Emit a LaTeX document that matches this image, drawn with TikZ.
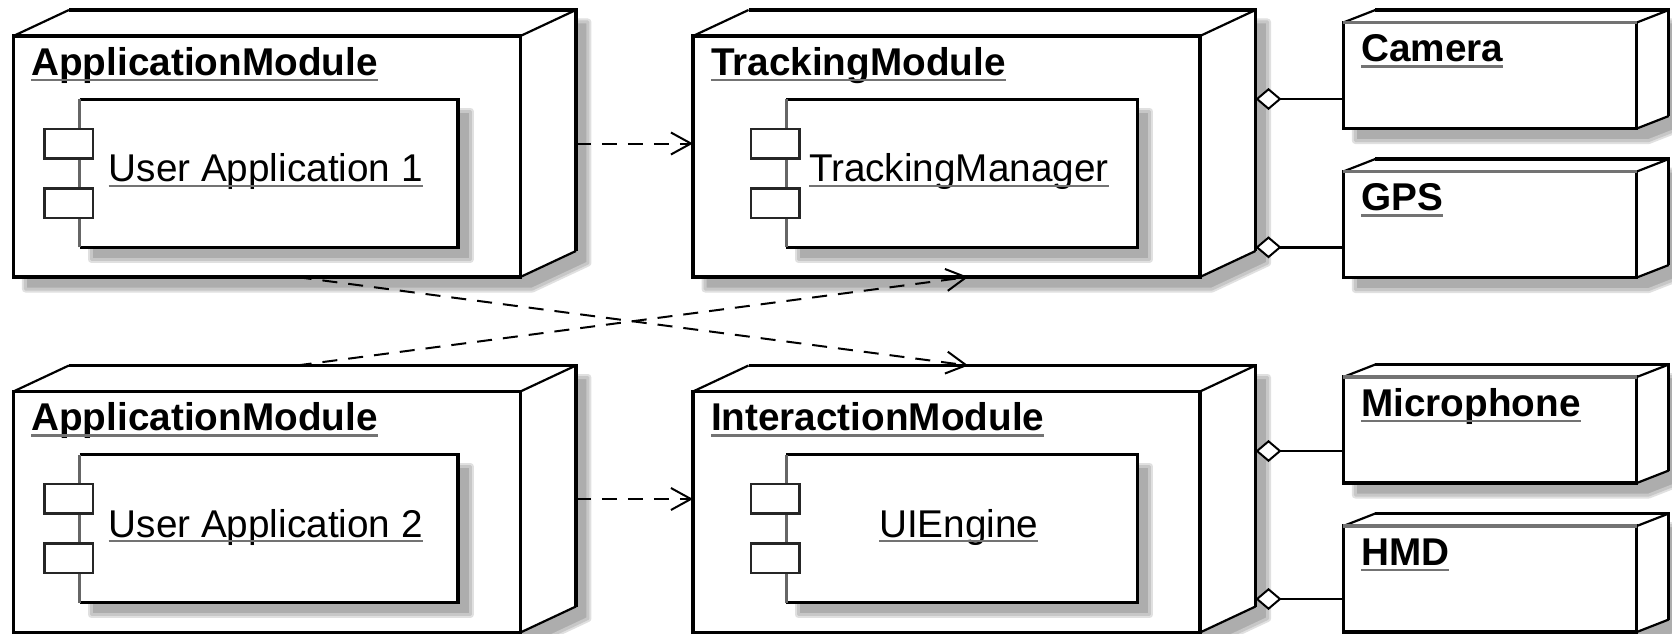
\documentclass[tikz,border=0pt]{standalone}
\usepackage{fontspec}
\setmainfont{Liberation Sans}
\usetikzlibrary{arrows.meta,fit}

\tikzset{
  every node/.style={inner sep=0pt, outer sep=0pt},
  lbl/.style={font=\fontsize{38.7}{44}\selectfont, text=black},
  ttl/.style={font=\fontsize{38.7}{44}\selectfont\bfseries, text=black},
  shadowA/.style={fill=black!12, draw=black!12, line width=7pt, line join=round},
  shadowB/.style={fill=black!32, draw=black!22, line width=3pt, line join=round},
  front/.style={draw=black, fill=white, line width=3.2pt},
  rim/.style={draw=black, line width=3.2pt, line cap=square},
  diag/.style={draw=black, line width=2.2pt},
  topgray/.style={draw=black!55, line width=3.5pt},
  compbox/.style={fill=white},
  compside/.style={draw=black!60, line width=2.8pt},
  port/.style={draw=black!85, fill=white, line width=2.5pt,
               minimum width=48.5pt, minimum height=29.5pt},
  ulline/.style={draw=black!55, line width=2.5pt},
  dep/.style={draw=black, line width=2pt, dash pattern=on 15pt off 11pt,
              -{Straight Barb[length=20pt, width=22pt, line width=2pt]}},
  aggr/.style={draw=black, line width=2.5pt,
               -{Diamond[fill=white, length=26pt, width=22pt, line width=2pt]}}
}

% 3D deployment node: name, x, y, width, height, depth-x, depth-y, front-top style, title
\newcommand\nodebox[9]{%
  \begin{scope}[shift={(12,12)}]
    \path[shadowA] (#2,#3+#5) -- (#2,#3) -- (#2+#6,#3-#7) -- (#2+#4+#6,#3-#7)
      -- (#2+#4+#6,#3+#5-#7) -- (#2+#4,#3+#5) -- cycle;
    \path[shadowB] (#2,#3+#5) -- (#2,#3) -- (#2+#6,#3-#7) -- (#2+#4+#6,#3-#7)
      -- (#2+#4+#6,#3+#5-#7) -- (#2+#4,#3+#5) -- cycle;
  \end{scope}
  \fill[white] (#2,#3) -- (#2+#6,#3-#7) -- (#2+#4+#6,#3-#7) -- (#2+#4+#6,#3+#5-#7)
    -- (#2+#4,#3+#5) -- (#2+#4,#3) -- cycle;
  \node[front, minimum width=#4pt, minimum height=#5pt, anchor=north west] (#1-f) at (#2,#3) {};
  \coordinate (#1-bnw) at (#2+#6,#3-#7);
  \coordinate (#1-bne) at (#2+#4+#6,#3-#7);
  \coordinate (#1-bse) at (#2+#4+#6,#3+#5-#7);
  \draw[diag] (#1-f.north west) -- (#1-bnw);
  \draw[diag] (#1-f.north east) -- (#1-bne);
  \draw[diag] (#1-f.south east) -- (#1-bse);
  \draw[rim] (#1-bnw) -- (#1-bne) -- (#1-bse);
  \draw[#8] (#1-f.north west) -- (#1-f.north east);
  \node[fit=(#1-f)(#1-bne)] (#1) {};
  \node[ttl, anchor=base west] (#1-t) at (#2+18,#3+39) {#9};
  \draw[ulline] ([yshift=-5pt]#1-t.base west) -- ([yshift=-5pt]#1-t.base east);
}

% UML component: name, x, y, width, label
\newcommand\component[5]{%
  \begin{scope}[shift={(12,12)}]
    \path[shadowA] (#2,#3) rectangle (#2+#4,#3+148);
    \path[shadowB] (#2,#3) rectangle (#2+#4,#3+148);
  \end{scope}
  \node[compbox, minimum width=#4pt, minimum height=148pt, anchor=north west] (#1) at (#2,#3) {};
  \draw[rim] (#1.north west) -- (#1.north east) -- (#1.south east) -- (#1.south west);
  \draw[compside] (#1.south west) -- (#1.north west);
  \node[port, anchor=north west] (#1-p1) at ([shift={(-35pt,-29.7pt)}]#1.north west) {};
  \node[port, anchor=north west] (#1-p2) at ([shift={(-35pt,-89pt)}]#1.north west) {};
  \node[lbl, anchor=base] (#1-t) at ([shift={(-3pt,-82.5pt)}]#1.north) {#5};
  \draw[ulline] ([yshift=-4pt]#1-t.base west) -- ([yshift=-4pt]#1-t.base east);
}

\begin{document}
\begin{tikzpicture}[x=1pt, y=-1pt]
  \useasboundingbox (0,0) rectangle (1672,634);
  \fill[white] (0,0) rectangle (1672,634);

  % execution environments
  \nodebox{am1}{13.4}{36}{507}{241}{55.5}{26}{rim}{ApplicationModule}
  \component{am1c}{79.5}{99.3}{378.5}{User Application 1}
  \nodebox{tm}{693}{36}{507}{241}{55.5}{26}{rim}{TrackingModule}
  \component{tmc}{786.2}{99.3}{351.3}{TrackingManager}
  \nodebox{am2}{13.4}{391.5}{507}{241}{55.5}{26}{rim}{ApplicationModule}
  \component{am2c}{79.5}{454.5}{378.5}{User Application 2}
  \nodebox{im}{693}{391.5}{507}{241}{55.5}{26}{rim}{InteractionModule}
  \component{imc}{786.2}{454.5}{351.3}{UIEngine}

  % devices
  \nodebox{cam}{1343.3}{22.5}{293.5}{106}{32}{12.5}{topgray}{Camera}
  \nodebox{gps}{1343.3}{171.5}{293.5}{106}{32}{12.5}{topgray}{GPS}
  \nodebox{mic}{1343.3}{377}{293.5}{106}{32}{12.5}{topgray}{Microphone}
  \nodebox{hmd}{1343.3}{526}{293.5}{106}{32}{12.5}{topgray}{HMD}

  % dependencies
  \draw[dep] (am1.east) -- (tm.west);
  \draw[dep] (am2.east) -- (im.west);
  \draw[dep] ([xshift=2pt]am1.south) -- ([xshift=-6pt]im.north);
  \draw[dep] ([xshift=2pt]am2.north) -- ([xshift=-6pt]tm.south);

  % aggregations
  \coordinate (cam-l) at ([yshift=-76.5pt]cam-f.north west);
  \coordinate (gps-l) at ([yshift=-75.8pt]gps-f.north west);
  \coordinate (mic-l) at ([yshift=-74pt]mic-f.north west);
  \coordinate (hmd-l) at ([yshift=-73pt]hmd-f.north west);
  \draw[aggr] (cam-l) -- (tm.east |- cam-l);
  \draw[aggr] (gps-l) -- (tm.east |- gps-l);
  \draw[aggr] (mic-l) -- (im.east |- mic-l);
  \draw[aggr] (hmd-l) -- (im.east |- hmd-l);
\end{tikzpicture}
\end{document}
